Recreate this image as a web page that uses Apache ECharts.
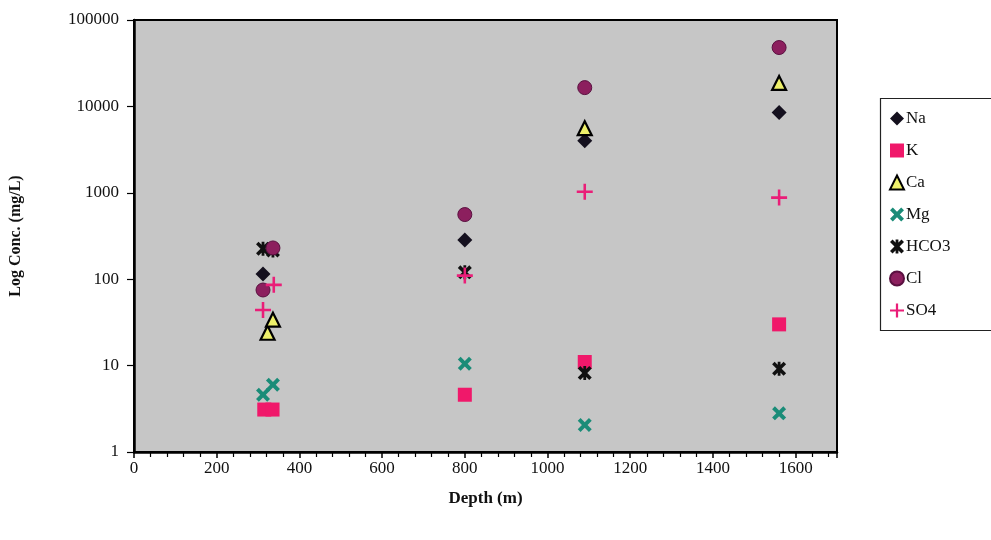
<!DOCTYPE html>
<html><head><meta charset="utf-8">
<script src="https://cdn.jsdelivr.net/npm/echarts@6/dist/echarts.min.js"></script>
<style>html,body{margin:0;padding:0;background:#fff}#c{width:991px;height:540px}</style>
</head><body><div id="c"></div>
<script>
// Data: [depth (m), concentration (mg/L)]
var naData   = [[312,115],[800,285],[1090,4000],[1560,8500]];
var kData    = [[315,3.1],[335,3.1],[800,4.6],[1090,11],[1560,30]];
var caData   = [[323,24],[336,34],[1090,5600],[1560,18700]];
var mgData   = [[312,4.6],[336,6.0],[800,10.5],[1090,2.05],[1560,2.8]];
var hco3Data = [[312,225],[336,215],[800,120],[1090,8.2],[1560,9.2]];
var clData   = [[312,75],[336,230],[800,560],[1090,16500],[1560,48000]];
var so4Data  = [[312,44],[338,86],[800,110],[1090,1030],[1560,880]];
var seriesNames = ['Na','K','Ca','Mg','HCO3','Cl','SO4'];
var xTicks = {min:0, max:1700, interval:200};
var yTicks = {min:1, max:100000};

var FONT = '"Liberation Serif","Times New Roman",serif';
var X_PATH = 'path://M2,0 L5,3 L8,0 L10,2 L7,5 L10,8 L8,10 L5,7 L2,10 L0,8 L3,5 L0,2 Z';
var PLUS_PATH = 'path://M4.2,0 H5.8 V4.2 H10 V5.8 H5.8 V10 H4.2 V5.8 H0 V4.2 H4.2 Z';
var AST_PATH = 'path://M1.8,0 L5,3.2 L8.2,0 L10,1.8 L6.8,5 L10,8.2 L8.2,10 L5,6.8 L1.8,10 L0,8.2 L3.2,5 L0,1.8 Z M4,0 H6 V10 H4 Z';

var chart = echarts.init(document.getElementById('c'), null, {renderer:'canvas'});
function mk(name, data, symbol, size, style){
  style.opacity = 1;
  return {name:name, type:'scatter', data:data, symbol:symbol, symbolSize:size, itemStyle:style, z:3};
}
chart.setOption({
  animation:false,
  backgroundColor:'#ffffff',
  textStyle:{fontFamily:FONT},
  grid:{left:134, top:20, right:154, bottom:88, show:true, backgroundColor:'#c6c6c6', borderColor:'#000', borderWidth:2},
  xAxis:{type:'value', min:xTicks.min, max:xTicks.max, interval:xTicks.interval,
    name:'Depth (m)', nameLocation:'middle', nameGap:38,
    nameTextStyle:{fontFamily:FONT, fontSize:17, fontWeight:'bold', color:'#111'},
    axisLine:{show:true, onZero:false, lineStyle:{color:'#000', width:2.5}},
    axisTick:{show:true, inside:false, length:6, lineStyle:{color:'#000', width:1.5}},
    minorTick:{show:true, splitNumber:5, length:5, lineStyle:{color:'#000', width:1.2}},
    splitLine:{show:false},
    axisLabel:{fontFamily:FONT, fontSize:17, color:'#111', margin:8, showMaxLabel:false,
      formatter:function(v){return String(Math.round(v));}}
  },
  yAxis:{type:'log', logBase:10, min:yTicks.min, max:yTicks.max,
    name:'Log Conc. (mg/L)', nameLocation:'middle', nameGap:110, nameRotate:90,
    nameTextStyle:{fontFamily:FONT, fontSize:16, fontWeight:'bold', color:'#111'},
    axisLine:{show:true, lineStyle:{color:'#000', width:2.5}},
    axisTick:{show:true, inside:false, length:7, lineStyle:{color:'#000', width:1.2}},
    splitLine:{show:false},
    axisLabel:{fontFamily:FONT, fontSize:17, color:'#111', margin:15,
      formatter:function(v){return String(Math.round(v));}}
  },
  legend:{orient:'vertical', left:884, top:105, itemWidth:14, itemHeight:14, itemGap:15,
    data:seriesNames,
    textStyle:{fontFamily:FONT, fontSize:17, color:'#111', padding:[0,0,0,-3]}
  },
  graphic:[{type:'rect', shape:{x:880.5, y:98.5, width:130, height:232}, style:{fill:'none', stroke:'#222', lineWidth:1.2}, z:-1}],
  series:[
    mk('Na', naData, 'diamond', 15, {color:'#14101e'}),
    mk('K', kData, 'rect', 14, {color:'#f0186a'}),
    mk('Ca', caData, 'triangle', 14, {color:'#eef06a', borderColor:'#000', borderWidth:2.2}),
    mk('Mg', mgData, X_PATH, 14, {color:'#1a8c78'}),
    mk('HCO3', hco3Data, AST_PATH, 14, {color:'#111'}),
    mk('Cl', clData, 'circle', 14, {color:'#8c1f5e', borderColor:'#5a1040', borderWidth:1}),
    mk('SO4', so4Data, PLUS_PATH, 16, {color:'#ea1e78'})
  ]
});
</script></body></html>
